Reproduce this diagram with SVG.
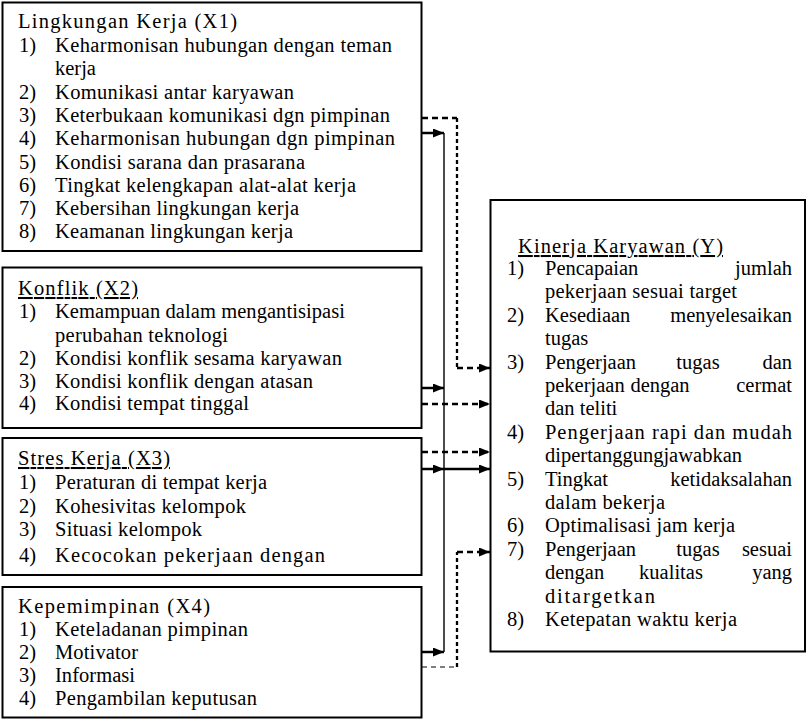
<svg xmlns="http://www.w3.org/2000/svg" width="809" height="722" viewBox="0 0 809 722">
<style>
  .box { fill: #fff; stroke: #000; stroke-width: 2; }
  .t { font-family: "Liberation Serif", "Times New Roman", serif; font-size: 20.5px; fill: #000; }
  .u { text-decoration: underline; }
  .e { text-anchor: end; }
  .m { text-anchor: middle; }
  .sol { fill: none; stroke: #000; stroke-width: 2.5; }
  .thin { fill: none; stroke: #000; stroke-width: 1.4; }
  .dh { fill: none; stroke: #000; stroke-width: 2.3; stroke-dasharray: 6 4; }
  .dv { fill: none; stroke: #000; stroke-width: 2.3; stroke-dasharray: 4 3; }
  .dt { fill: none; stroke: #000; stroke-width: 1.1; stroke-dasharray: 5 4; }
</style>
<defs>
  <marker id="arr" markerUnits="userSpaceOnUse" markerWidth="12" markerHeight="10" refX="11" refY="4.5" orient="auto">
    <path d="M0,0 L11,4.5 L0,9 z" fill="#000"/>
  </marker>
</defs>
<rect width="809" height="722" fill="#fff"/>

<g id="X1">
  <rect class="box" x="2.5" y="2.5" width="419" height="248.5"/>
  <text class="t" x="18" y="28" textLength="219" lengthAdjust="spacing">Lingkungan Kerja (X1)</text>
  <text class="t" x="19" y="52">1)</text>
  <text class="t" x="55" y="52" textLength="337" lengthAdjust="spacing">Keharmonisan hubungan dengan teman</text>
  <text class="t" x="55" y="75.3">kerja</text>
  <text class="t" x="19" y="98.6">2)</text>
  <text class="t" x="55" y="98.6" textLength="239" lengthAdjust="spacing">Komunikasi antar karyawan</text>
  <text class="t" x="19" y="121.9">3)</text>
  <text class="t" x="55" y="121.9" textLength="335" lengthAdjust="spacing">Keterbukaan komunikasi dgn pimpinan</text>
  <text class="t" x="19" y="145.2">4)</text>
  <text class="t" x="55" y="145.2" textLength="340" lengthAdjust="spacing">Keharmonisan  hubungan dgn pimpinan</text>
  <text class="t" x="19" y="168.5">5)</text>
  <text class="t" x="55" y="168.5" textLength="250" lengthAdjust="spacing">Kondisi sarana dan prasarana</text>
  <text class="t" x="19" y="191.8">6)</text>
  <text class="t" x="55" y="191.8" textLength="301" lengthAdjust="spacing">Tingkat kelengkapan alat-alat kerja</text>
  <text class="t" x="19" y="215.1">7)</text>
  <text class="t" x="55" y="215.1" textLength="244" lengthAdjust="spacing">Kebersihan lingkungan kerja</text>
  <text class="t" x="19" y="238.4">8)</text>
  <text class="t" x="55" y="238.4" textLength="238" lengthAdjust="spacing">Keamanan lingkungan kerja</text>
</g>

<g id="X2">
  <rect class="box" x="2.5" y="267.5" width="419" height="160.5"/>
  <text class="t u" x="18" y="295" textLength="120" lengthAdjust="spacing">Konflik (X2)</text>
  <text class="t" x="19" y="318">1)</text>
  <text class="t" x="55" y="318" textLength="290" lengthAdjust="spacing">Kemampuan dalam mengantisipasi</text>
  <text class="t" x="55" y="341.5" textLength="173" lengthAdjust="spacing">perubahan teknologi</text>
  <text class="t" x="19" y="365">2)</text>
  <text class="t" x="55" y="365" textLength="287" lengthAdjust="spacing">Kondisi konflik sesama karyawan</text>
  <text class="t" x="19" y="388">3)</text>
  <text class="t" x="55" y="388" textLength="258" lengthAdjust="spacing">Kondisi konflik dengan atasan</text>
  <text class="t" x="19" y="410">4)</text>
  <text class="t" x="55" y="410" textLength="194" lengthAdjust="spacing">Kondisi tempat tinggal</text>
</g>

<g id="X3">
  <rect class="box" x="2.5" y="438" width="419" height="137"/>
  <text class="t u" x="18" y="465" textLength="152" lengthAdjust="spacing">Stres Kerja (X3)</text>
  <text class="t" x="19" y="488.5">1)</text>
  <text class="t" x="55" y="488.5" textLength="212" lengthAdjust="spacing">Peraturan di tempat kerja</text>
  <text class="t" x="19" y="513">2)</text>
  <text class="t" x="55" y="513" textLength="191" lengthAdjust="spacing">Kohesivitas kelompok</text>
  <text class="t" x="19" y="535.5">3)</text>
  <text class="t" x="55" y="535.5" textLength="147" lengthAdjust="spacing">Situasi kelompok</text>
  <text class="t" x="19" y="562">4)</text>
  <text class="t" x="55" y="562" textLength="270" lengthAdjust="spacing">Kecocokan pekerjaan dengan</text>
</g>

<g id="X4">
  <rect class="box" x="2.5" y="587" width="419" height="130.5"/>
  <text class="t" x="18" y="613" textLength="192" lengthAdjust="spacing">Kepemimpinan (X4)</text>
  <text class="t" x="19" y="636">1)</text>
  <text class="t" x="55" y="636" textLength="193" lengthAdjust="spacing">Keteladanan pimpinan</text>
  <text class="t" x="19" y="659">2)</text>
  <text class="t" x="55" y="659" textLength="83" lengthAdjust="spacing">Motivator</text>
  <text class="t" x="19" y="681.5">3)</text>
  <text class="t" x="55" y="681.5" textLength="80" lengthAdjust="spacing">Informasi</text>
  <text class="t" x="19" y="705">4)</text>
  <text class="t" x="55" y="705" textLength="202" lengthAdjust="spacing">Pengambilan keputusan</text>
</g>

<g id="Y">
  <rect class="box" x="490.5" y="200" width="314.5" height="451.5"/>
  <text class="t u" x="518" y="253" textLength="205" lengthAdjust="spacing">Kinerja Karyawan (Y)</text>
  <text class="t" x="507" y="275">1)</text>
  <text class="t" x="545" y="275">Pencapaian</text>
  <text class="t e" x="792" y="275">jumlah</text>
  <text class="t" x="545" y="298.4" textLength="192" lengthAdjust="spacing">pekerjaan sesuai target</text>
  <text class="t" x="507" y="321.8">2)</text>
  <text class="t" x="545" y="321.8">Kesediaan</text>
  <text class="t e" x="792" y="321.8">menyelesaikan</text>
  <text class="t" x="545" y="345.2">tugas</text>
  <text class="t" x="507" y="368.6">3)</text>
  <text class="t" x="545" y="368.6">Pengerjaan</text>
  <text class="t m" x="698" y="368.6">tugas</text>
  <text class="t e" x="792" y="368.6">dan</text>
  <text class="t" x="545" y="392">pekerjaan</text>
  <text class="t m" x="660" y="392">dengan</text>
  <text class="t e" x="792" y="392">cermat</text>
  <text class="t" x="545" y="415.4">dan teliti</text>
  <text class="t" x="507" y="438.8">4)</text>
  <text class="t" x="545" y="438.8" textLength="247" lengthAdjust="spacing">Pengerjaan rapi dan mudah</text>
  <text class="t" x="545" y="462.2" textLength="197" lengthAdjust="spacing">dipertanggungjawabkan</text>
  <text class="t" x="507" y="485.6">5)</text>
  <text class="t" x="545" y="485.6">Tingkat</text>
  <text class="t e" x="792" y="485.6">ketidaksalahan</text>
  <text class="t" x="545" y="509" textLength="120" lengthAdjust="spacing">dalam bekerja</text>
  <text class="t" x="507" y="532.4">6)</text>
  <text class="t" x="545" y="532.4" textLength="190" lengthAdjust="spacing">Optimalisasi jam kerja</text>
  <text class="t" x="507" y="555.8">7)</text>
  <text class="t" x="545" y="555.8">Pengerjaan</text>
  <text class="t m" x="698" y="555.8">tugas</text>
  <text class="t e" x="792" y="555.8">sesuai</text>
  <text class="t" x="545" y="579.2">dengan</text>
  <text class="t m" x="671" y="579.2">kualitas</text>
  <text class="t e" x="792" y="579.2">yang</text>
  <text class="t" x="545" y="602.6" textLength="110" lengthAdjust="spacing">ditargetkan</text>
  <text class="t" x="507" y="626">8)</text>
  <text class="t" x="545" y="626" textLength="192" lengthAdjust="spacing">Ketepatan waktu kerja</text>
</g>

<g id="connectors">
  <path class="thin" d="M444,133 V652"/>
  <path class="sol" d="M422,133 H444" marker-end="url(#arr)"/>
  <path class="sol" d="M422,388 H444" marker-end="url(#arr)"/>
  <path class="sol" d="M422,469 H444" marker-end="url(#arr)"/>
  <path class="sol" d="M444,469 H490" marker-end="url(#arr)"/>
  <path class="sol" d="M422,652 H444" marker-end="url(#arr)"/>
  <path class="dh" d="M422,118 H457"/>
  <path class="dv" d="M457,118 V368"/>
  <path class="dh" d="M457,368 H490" marker-end="url(#arr)"/>
  <path class="dh" d="M422,404 H490" marker-end="url(#arr)"/>
  <path class="dh" d="M422,452 H490" marker-end="url(#arr)"/>
  <path class="dt" d="M422,667 H457"/>
  <path class="dv" d="M457,667 V552"/>
  <path class="dh" d="M457,552 H490" marker-end="url(#arr)"/>
</g>
</svg>
